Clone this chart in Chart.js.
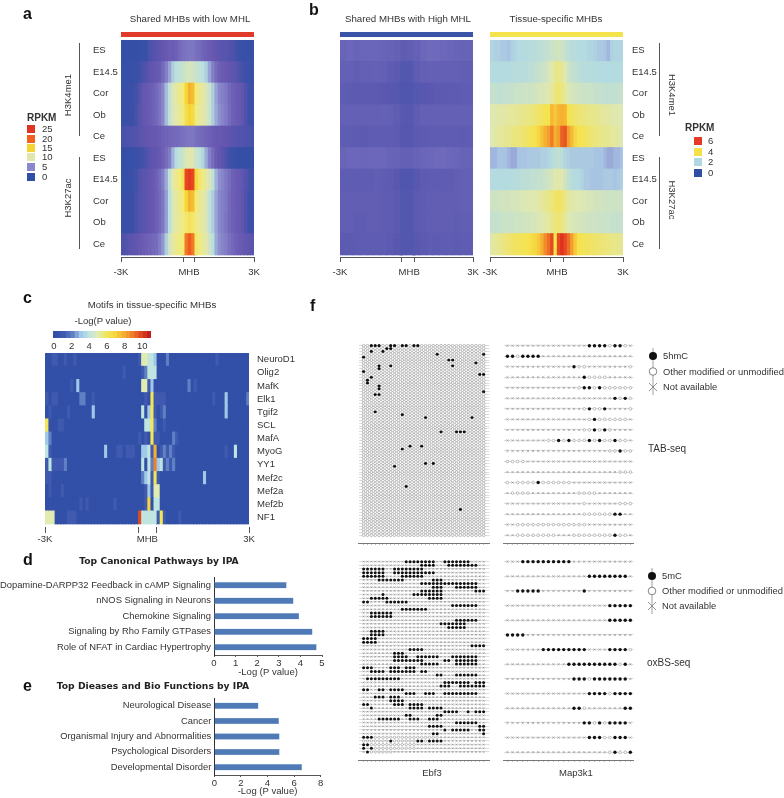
<!DOCTYPE html>
<html>
<head>
<meta charset="utf-8">
<title>MHB figure</title>
<script src="https://cdn.jsdelivr.net/npm/chart.js@4"></script>
<style>
html,body{margin:0;padding:0;background:#fff;width:784px;height:798px;overflow:hidden}
#page{position:relative;width:784px;height:798px;overflow:hidden;font-family:"Liberation Sans",Arial,sans-serif;color:#333;filter:blur(.3px)}
#page canvas{position:absolute}
.t{position:absolute;white-space:nowrap;line-height:1;font-size:9.5px}
.s{position:absolute}
</style>
</head>
<body>
<div id="page"></div>
<script>
/* ---------- categories ---------- */
const histoneRows = ['ES','E14.5','Cor','Ob','Ce','ES','E14.5','Cor','Ob','Ce'];
const motifNames = ['NeuroD1','Olig2','MafK','Elk1','Tgif2','SCL','MafA','MyoG','YY1','Mef2c','Mef2a','Mef2b','NF1'];
const pathwayNames = ['Dopamine-DARPP32 Feedback in cAMP Signaling','nNOS Signaling in Neurons','Chemokine Signaling','Signaling by Rho Family GTPases','Role of NFAT in Cardiac Hypertrophy'];
const pathwayValues = [3.35,3.67,3.93,4.55,4.74];
const diseaseNames = ['Neurological Disease','Cancer','Organismal Injury and Abnormalities','Psychological Disorders','Developmental Disorder'];
const diseaseValues = [3.3,4.84,4.89,4.89,6.57];
const rpkmLowLegend = [[25,'#e03525'],[20,'#f0601f'],[15,'#f5d335'],[10,'#e0e6ac'],[5,'#8a88cc'],[0,'#2f4fa6']];
const rpkmTissueLegend = [[6,'#e53a25'],[4,'#f5e04a'],[2,'#b0d8e0'],[0,'#2f4fa6']];

/* ---------- colour ramps ---------- */
const lowRamp = [[0,'#2f4fa6'],[1,'#3e50a8'],[2.5,'#6656b0'],[5,'#8a88cc'],[7.5,'#b8dfe2'],[10,'#e2e8ac'],[12.5,'#f3ea78'],[15,'#f6d636'],[20,'#f0601f'],[25,'#e03020']];
const tissueRamp = [[0,'#2f4fa6'],[0.6,'#5a58b0'],[1,'#7e76c4'],[1.6,'#a8c4e2'],[2,'#b4dbe0'],[3,'#dfe8b0'],[4,'#f6e24a'],[4.8,'#f5b030'],[5.4,'#ef7a28'],[6,'#e03020']];
const motifRamp = [[0,'#3350a8'],[1,'#3f5aae'],[2,'#5f80c2'],[3,'#a0c8e8'],[4,'#c0e5e0'],[5,'#e0ecb0'],[6,'#f2e658'],[7,'#f5d63c'],[8,'#f5b030'],[9,'#f08028'],[10,'#e04a20'],[11,'#c02020']];

/* ---------- a: Shared MHBs with low MHL ---------- */
const lowMe1ES   = [0.4,0.4,0.4,0.4,0.5,0.6,0.6,0.7,1.5,1.8,2,2.2,2.4,2.6,2.8,2.8,3,3.5,3.8,4,4.2,4.2,3.8,3.6,3.2,3,2.8,2.6,2.4,2.2,2,2,1.8,1.6,1.2,0.8,0.6,0.6,0.5,0.5];
const lowMe1E145 = [0.5,0.5,0.5,0.6,0.8,1,1.5,1.8,2.2,2.4,2.6,2.8,3.5,4.5,5.8,7,7.8,8,8.4,9,9.2,9,8.4,8,7.6,7,5.8,4.6,3.6,3,2.8,2.6,2.4,2.2,2,1.6,1.2,1,0.8,0.6];
const lowMe1Cor  = [0.6,0.6,0.7,0.8,1.2,1.8,2.4,2.6,2.8,3,3.4,4,5,6.5,8,9.5,10.5,11.5,12.5,15,16.5,16,12.5,11.5,10.5,9.5,8.5,7,5.8,5,4.6,4.2,3.5,3,2.8,2.6,2.2,1.6,1,0.8];
const lowMe1Ob   = [0.6,0.6,0.7,0.9,1.4,2,2.4,2.6,2.8,3,3.4,4,5,6.5,8,9.5,10,11,12,14,15,14.5,12,11,10.2,9.5,8.5,7,6,5.2,4.8,4.3,3.6,3,2.8,2.6,2.2,1.6,1,0.8];
const lowMe1Ce   = [1.4,1.5,1.6,1.7,1.8,2,2.2,2.4,2.5,2.6,2.6,2.8,3,3.2,3.3,3.4,3.5,3.6,3.8,4,4.2,4.2,3.8,3.6,3.4,3.2,3,2.8,2.6,2.6,2.5,2.4,2.2,2,1.9,1.8,1.7,1.6,1.5,1.4];
const lowAcES    = [0.4,0.4,0.5,0.6,0.8,1,1.2,1.6,2,2.2,2.4,2.6,3,3.6,4.4,6.2,7.4,8,8.6,9.6,10,9.6,8.6,8,7.2,6,4.6,3.6,2.8,2.4,2,1.6,1,0.8,0.5,0.4,0.4,0.4,0.4,0.4];
const lowAcE145  = [0.5,0.5,0.6,0.8,1.2,1.8,2,2.2,2.4,2.6,3,3.6,4.6,6,8,10,11.5,12.5,13.5,22.5,24,22.5,14.5,13,12,10.5,9.5,8,6.2,5.2,4.8,4.2,3.6,3,2.8,2.6,2.2,1.8,1.2,0.8];
const lowAcCor   = [0.6,0.6,0.7,0.9,1.4,1.8,2,2.2,2.4,2.6,3,3.4,4.2,5.6,7.5,9.5,10.5,11.5,12.5,15,16.5,16,12.5,11.5,10.5,9.5,8,7,5.8,5,4.6,4.2,3.4,3,2.8,2.6,2.2,1.6,1,0.8];
const lowAcOb    = [0.6,0.6,0.7,0.9,1.4,1.8,2,2.2,2.4,2.6,3,3.4,4.2,5.6,7.5,9.5,10.5,11,12,13,13.5,13,12,11,10.5,9.5,8,7,5.8,5,4.6,4,3.4,3,2.8,2.6,2.2,1.6,1,0.8];
const lowAcCe    = [1.6,1.8,2,2.2,2.4,2.6,2.8,3,3.2,3.4,3.6,4.4,5.4,7,9,10.5,11.5,12,12.5,19,20.5,19,13,12,11,10,9,7.5,6,5.2,4.8,4.4,3.8,3.4,3,2.8,2.6,2.4,2.2,2];
const lowMhbEdge = [0.8,0.8,1,1,0.8,2.5,5,5,5,5];
const lowTicks = [[-3000,'-3K'],[-203,''],[68,'MHB'],[338,''],[3000,'3K']];

/* ---------- b: Shared MHBs with High MHL ---------- */
const highMe1ES   = [.76,.8,.76,.78,.78,.78,.76,.74,.72,.66,.68,.72,.8,.84,.82,.8,.78,.76,.74,.74];
const highMe1E145 = [.7,.7,.68,.7,.7,.72,.7,.66,.62,.5,.52,.66,.7,.72,.7,.7,.7,.7,.68,.68];
const highMe1Cor  = [.66,.64,.62,.62,.62,.62,.6,.58,.54,.46,.46,.54,.58,.6,.62,.62,.64,.64,.66,.66];
const highMe1Ob   = [.7,.7,.7,.7,.7,.7,.72,.7,.66,.58,.58,.66,.7,.7,.7,.7,.7,.7,.7,.7];
const highMe1Ce   = [.66,.66,.64,.62,.66,.66,.66,.66,.64,.56,.56,.62,.64,.66,.66,.66,.66,.66,.64,.66];
const highAcES    = [.76,.8,.8,.78,.8,.8,.8,.76,.74,.7,.7,.74,.78,.8,.82,.84,.8,.78,.74,.74];
const highAcE145  = [.66,.66,.66,.66,.66,.68,.66,.64,.58,.46,.46,.58,.64,.66,.66,.66,.66,.68,.7,.7];
const highAcCor   = [.68,.68,.68,.68,.68,.68,.66,.66,.62,.5,.52,.62,.66,.68,.68,.68,.68,.68,.7,.7];
const highAcOb    = [.68,.68,.66,.66,.68,.68,.66,.66,.62,.5,.52,.62,.66,.68,.68,.68,.68,.66,.68,.68];
const highAcCe    = [.62,.62,.64,.66,.66,.66,.66,.62,.58,.5,.5,.58,.62,.66,.64,.66,.66,.64,.66,.66];
const highMhbEdge = [.58,.5,.48,.6,.6,.72,.46,.52,.52,.5];
const highTicks = [[-3000,'-3K'],[-215,''],[120,'MHB'],[350,''],[3000,'3K']];

/* ---------- b: Tissue-specific MHBs ---------- */
const tisMe1ES   = [1.9,1.8,1.8,1.7,1.7,1.6,1.8,1.9,2,2,2,2.1,2.1,2.1,2.2,2.2,2.3,2.4,2.5,2.6,2.7,2.6,2.4,2.2,2.1,2.1,2,2,2,1.9,1.9,1.8,1.7,1.7,1.6,1.5,1.8,1.9,1.9,1.9];
const tisMe1E145 = [2,2,2,2,2,2,2.1,2.1,2.1,2.1,2.1,2.2,2.2,2.3,2.4,2.5,2.6,2.8,3,3.3,3.4,3.3,3,2.6,2.4,2.3,2.2,2.1,2.1,2.1,2.1,2,2,2,2,2,2,2,2,2];
const tisMe1Cor  = [2.4,2.4,2.3,2.3,2.4,2.4,2.4,2.5,2.5,2.5,2.6,2.6,2.6,2.7,2.8,2.8,2.9,3,3.2,3.5,3.6,3.5,3.2,2.9,2.8,2.7,2.6,2.6,2.5,2.5,2.5,2.4,2.4,2.4,2.3,2.3,2.3,2.3,2.4,2.4];
const tisMe1Ob   = [3,3,3.1,3.1,3.1,3.2,3.2,3.2,3.3,3.3,3.4,3.4,3.5,3.6,3.7,3.8,3.9,4,4.7,4.4,4.7,4.8,4.7,4,3.8,3.7,3.6,3.5,3.5,3.4,3.4,3.3,3.3,3.2,3.2,3.1,3.1,3,3,3];
const tisMe1Ce   = [3,3.1,3.2,3.2,3.3,3.3,3.4,3.5,3.5,3.6,3.7,3.8,3.9,4,4.2,4.5,4.8,5,5.4,4.8,5,5.6,5.7,5,4.6,4.2,4,3.9,3.8,3.7,3.6,3.5,3.4,3.4,3.3,3.3,3.2,3.2,3.1,3];
const tisAcES    = [1.5,1.5,1.6,1.6,1.6,1.5,1.4,1.4,1.6,1.6,1.6,1.7,1.7,1.7,1.7,1.8,1.8,1.9,2,2.2,2.3,2.2,1.9,1.8,1.7,1.7,1.7,1.7,1.7,1.7,1.7,1.6,1.6,1.6,1.5,1.4,1.4,1.5,1.5,1.6];
const tisAcE145  = [2,2,2,2,2,2,2.1,2.1,2.1,2.2,2.2,2.2,2.3,2.3,2.4,2.4,2.5,2.7,2.8,3,3.1,3,2.7,2.3,2.1,2,2,1.9,1.7,1.7,1.6,1.6,1.6,1.6,1.7,1.7,1.7,1.6,1.7,1.8];
const tisAcCor   = [2.6,2.6,2.6,2.7,2.7,2.7,2.8,2.8,2.8,2.9,2.9,3,3,3,3.1,3.2,3.3,3.4,3.5,3.7,3.8,3.7,3.4,3.2,3.1,3,3,2.9,2.9,2.8,2.8,2.7,2.7,2.7,2.6,2.6,2.6,2.6,2.6,2.6];
const tisAcOb    = [2.4,2.4,2.4,2.5,2.5,2.5,2.5,2.6,2.6,2.6,2.7,2.7,2.8,2.8,2.9,3,3.1,3.2,3.3,3.5,3.6,3.5,3.2,3,2.9,2.8,2.8,2.7,2.7,2.6,2.6,2.6,2.5,2.5,2.5,2.5,2.4,2.4,2.4,2.4];
const tisAcCe    = [3.1,3.2,3.3,3.4,3.5,3.6,3.7,3.8,3.8,3.9,3.9,4,4.1,4.2,4.4,4.8,5.2,5.5,5.8,4,5.8,6,5.8,5.5,5,4.4,4,3.9,3.8,3.8,3.7,3.7,3.6,3.6,3.5,3.5,3.4,3.4,3.3,3.3];
const tisMhbEdge = [1.1,1.1,1.2,3.2,3.3,1,1.1,1.4,1.4,3.4];
const tisTicks = [[-3000,'-3K'],[-275,''],[20,'MHB'],[300,''],[3000,'3K']];

/* ---------- c: motifs ---------- */
const mNeuroD1 = [0,0,1,1,0,0,1,0,0,1, 0,0,0,0,0,0,0,0,0,0, 0,0,0,0,0,0,0,0,0,0, 1,5,5,4,4,3,0,0,0,2, 0,0,0,0,0,0,0,0,0,0, 0,0,0,0,0,1,0,0,0,0, 0,0,0,0,0,0];
const mOlig2   = [0,0,0,0,0,0,0,0,0,0, 0,0,0,0,0,0,0,0,0,0, 0,0,0,0,0,1,0,0,0,0, 0,1,2,4,4,4,0,0,0,0, 0,0,0,0,0,0,0,0,0,0, 0,0,0,0,0,0,0,0,0,0, 0,0,0,0,0,0];
const mMafK    = [0,0,0,0,0,0,0,0,1,0, 3,0,0,0,0,0,0,0,0,0, 0,0,0,0,0,0,0,0,0,0, 0,5,5,1,3,0,0,0,0,0, 0,0,0,0,0,0,2,0,1,0, 0,0,0,0,0,0,0,0,0,0, 0,0,0,0,0,0];
const mElk1    = [1,0,1,1,0,0,0,0,0,0, 0,2,2,0,0,1,0,0,0,0, 0,0,0,0,0,0,0,0,0,0, 0,0,1,0,6,1,1,1,1,0, 0,0,0,0,0,0,0,0,0,0, 0,0,0,0,1,0,0,0,3,0, 0,0,0,0,0,2];
const mTgif2   = [0,1,0,0,0,0,0,1,0,0, 0,0,0,0,0,3,0,0,0,0, 0,0,0,0,0,0,0,0,0,0, 0,4,0,3,6,1,0,1,2,0, 0,0,0,0,0,0,0,0,0,0, 0,0,0,0,0,0,0,0,3,0, 0,0,0,0,0,0];
const mSCL     = [6,0,0,0,1,1,0,0,0,0, 0,0,0,0,0,0,0,0,0,0, 0,0,0,0,0,0,0,0,0,0, 0,0,4,4,6,2,0,0,1,0, 0,0,0,0,0,0,0,0,0,0, 0,0,0,0,0,0,0,0,0,0, 0,0,0,0,0,0];
const mMafA    = [3,2,0,0,0,0,0,0,0,0, 0,0,0,0,0,0,0,0,0,0, 0,0,0,0,0,0,0,0,0,0, 1,0,1,0,6,1,1,0,0,0, 0,2,1,0,0,0,0,0,0,0, 0,0,0,0,0,0,0,0,0,0, 0,0,0,0,0,0];
const mMyoG    = [4,1,0,0,0,0,0,0,0,0, 0,0,0,0,0,0,0,0,0,3, 0,0,0,1,1,0,1,1,1,0, 0,3,3,4,1,8,0,1,2,1, 2,1,0,0,0,0,0,0,0,0, 0,0,0,0,0,0,0,0,1,0, 0,4,0,0,0,0];
const mYY1     = [1,4,1,1,1,1,2,0,0,0, 0,0,0,0,0,0,0,0,0,0, 0,0,0,0,0,0,0,0,0,0, 0,4,0,4,2,9,3,4,1,2, 1,2,0,0,0,0,0,0,0,0, 0,0,0,0,0,0,0,0,0,0, 0,0,0,0,0,0];
const mMef2c   = [1,1,0,0,0,0,0,0,0,0, 0,0,0,0,0,0,0,0,0,0, 0,0,0,0,0,0,0,0,0,0, 0,2,3,4,1,6,1,0,0,0, 0,0,0,0,0,0,0,0,0,0, 0,3,0,0,0,0,0,0,0,0, 0,0,0,0,0,0];
const mMef2a   = [0,1,0,0,0,1,0,0,0,0, 0,0,0,0,0,0,0,0,0,0, 0,0,0,0,0,0,0,0,0,0, 0,0,1,3,1,5,5,0,0,0, 0,0,0,0,0,0,0,0,0,0, 0,0,0,0,0,0,0,0,0,0, 0,0,0,0,0,0];
const mMef2b   = [0,0,0,0,0,0,0,0,0,0, 0,1,0,1,0,0,0,0,0,0, 0,0,1,0,0,0,0,0,0,0, 0,0,1,7,0,4,4,0,0,0, 0,0,0,0,0,0,0,0,0,0, 0,0,0,0,0,0,0,0,0,0, 0,0,0,0,0,0];
const mNF1     = [5,5,5,0,0,0,0,1,1,1, 0,0,0,0,0,0,0,0,0,0, 0,0,0,0,0,0,0,0,0,0, 10,4,4,4,4,4,1,6,1,0, 0,0,0,1,0,0,0,0,0,0, 0,0,0,0,0,0,0,0,0,0, 0,0,0,0,0,0];
const motifTicks = [[-3000,'-3K'],[-256,''],[10,'MHB'],[265,''],[3000,'3K']];
const colorbarSteps = [0,0.5,1,1.5,2,2.5,3,3.5,4,4.5,5,5.5,6,6.5,7,7.5,8,8.5,9,9.5,10,10.5,11];
const colorbarTicks = [0,2,4,6,8,10];

/* ---------- f: Ebf3 reads, [row,[columns]] ---------- */
const ebf3Tab5hmC = [[0,[2,3,4,7,8,10,11,13,14]],[1,[6,7]],[2,[2,5]],[3,[19,31]],[4,[0]],[5,[22,23]],[6,[29]],[7,[4,7,23]],[8,[4]],[9,[0]],[10,[30,31]],[11,[2]],[12,[1]],[13,[1]],[14,[4]],[15,[4]],[16,[31]],[17,[3,4]],[23,[3]],[24,[10]],[25,[16,28]],[30,[20,24,25,26]],[35,[12,15]],[36,[10]],[41,[16,18]],[42,[8]],[49,[11]],[57,[25]]];
const ebf3TabRows = 67;
/* black runs per row: [first,last] */
const ebf3Ox5mC = [
[[11,18],[21,27]],[[15,18],[22,29]],[[0,5],[8,15]],[[0,5],[8,15],[16,18]],[[0,5],[10,15]],[[4,10],[18,20]],[[15,20],[21,29]],[[18,20],[24,29]],
[[15,20],[29,31]],[[5,5],[13,20]],[[2,6],[17,20]],[[0,1],[6,11]],[[23,29]],[[10,16]],[[2,7]],[[2,7]],[[24,29]],[[20,26]],[[22,26]],[[2,5]],[[2,5]],[[0,3]],[[0,3]],
[[28,31]],[[12,15]],[[8,10]],[[8,11],[14,19],[23,29]],[[8,15],[21,22],[24,29]],[[15,19],[24,29]],[[0,2],[7,9],[11,13]],[[2,5],[7,13],[15,16]],[[19,20],[24,29]],[[1,9]],
[[21,22],[23,27],[29,31]],[[20,22],[25,27],[28,31]],[[0,1],[4,5],[7,10]],[[11,13],[16,18],[21,29]],[[3,5],[7,9]],[[7,10]],[[0,1],[8,10],[12,15]],[[2,2],[12,15],[17,20]],
[[21,24],[27,27],[29,31]],[[11,12],[19,20]],[[4,9],[12,14],[17,19]],[[24,29]],[[17,20],[30,31]],[[21,21],[23,27],[30,31]],[[18,19],[31,31]],[[0,2]],[[7,7],[14,15],[17,20]],[[0,1]],[[0,0],[2,2]],[[1,1]]];
const ebf3OxOpenRuns = [[48,3,19],[49,0,19],[50,1,13],[51,3,13],[52,2,7]];
/* Map3k1: # modified, o other, x not available */
const map3k1Tab = ['xxxxxxxxxxxxxxxx####o##ox','##o####xxxxxxxxxxxxxxxxxx','xxxxxxxxxxxxx#ooxxxxxxxxo','xxxxxxxxxxxxxxx#ooooxxxxx','xxxxxxxxxxxxxxo##o#oooooo','xxxxxxxxxxxxxxxxxxxxx#o#o','xxxxxxxxxxxxxxxo#oo#xxxxo','xxxxxxxxxxxxxxxxo#oooooox','xxxxxxxxxxxxxxxoo#o#oxxxx','xxxxxxxxoo#o#ooo#o#oo#oox','xxxxxxxxxxxxxxxxxxxxoo#oo','ooooxxxxxxxxxxxxxxxxxxxxx','xxxxxxxxxxxxxxxxxxxxxxooo','oxoooo#ooooooxxxxxxxxxxxx','xooooxxxxxxxxxooooxxxxxxx','xxxxxxxxxxxxxxxoxxxxxxooo','xxxxxxxxxxxxxxxoooooo##xx','xxooooooooooooooxxxxxxxxx','xxooooooooxxxoooooooo#oox'];
const map3k1Ox = ['xxx##########xxxxxxxxxxxx','xxxxxxxxxxxxxxxx########x','xx#####xxxxxxxx#xxxxxxxxx','xxxxxxxxxxxxxxxxxxxx#####','xxxxxxxxxxxxxxxxxxxx#####','####xxxxxxxxxxxxxxxxxxxxx','xxxxxxx#########xxxx####o','xxxxxxxxxxxx##########o#x','xxxxxxxxxxxxx###o#######x','xxxxxxxxxxxxxxxx####o####','xxxxxxxxxxxxx##oxxxxxxx##','xxxxxxxxxxxxxxx##o#o####x','xxxxxxxxxxxxxxxx###oo###x','xxxxxxxxxxxxxxxxxxxxo#oo#'];

/* ---------- helpers ---------- */
const page = document.getElementById('page');
const FONT = '"Liberation Sans", Arial, sans-serif';
Chart.defaults.font.family = FONT;
Chart.defaults.font.size = 9.5;
Chart.defaults.color = '#333';
Chart.defaults.animation = false;
const hex = h => [1,3,5].map(i => parseInt(h.slice(i,i+2),16));
function rampColor(ramp, v){
  if (v <= ramp[0][0]) return ramp[0][1];
  for (let i = 1; i < ramp.length; i++){
    if (v <= ramp[i][0]){
      const f = (v-ramp[i-1][0])/(ramp[i][0]-ramp[i-1][0]);
      const a = hex(ramp[i-1][1]), b = hex(ramp[i][1]);
      return `rgb(${a.map((c,k)=>Math.round(c+(b[k]-c)*f)).join(',')})`;
    }
  }
  return ramp[ramp.length-1][1];
}
function text(str,x,y,o={}){
  const d = document.createElement('div');
  d.className = 't';
  d.textContent = str;
  d.style.left = x+'px'; d.style.top = y+'px';
  const ax = o.anchor==='center' ? '-50%' : o.anchor==='end' ? '-100%' : '0';
  d.style.transform = `translate(${ax},-50%)` + (o.rot ? ` rotate(${o.rot}deg)` : '');
  if (o.rot) d.style.transformOrigin = '50% 50%';
  if (o.size) d.style.fontSize = o.size+'px';
  if (o.bold) d.style.fontWeight = 'bold';
  if (o.color) d.style.color = o.color;
  if (o.family) d.style.fontFamily = o.family;
  page.appendChild(d);
}
function rect(x,y,w,h,c){
  const d = document.createElement('div');
  d.className = 's';
  d.style.cssText = `left:${x}px;top:${y}px;width:${w}px;height:${h}px;background:${c}`;
  page.appendChild(d);
}
/* canvas framing so that the chart area lands on the given plot box */
function frame(plot, o){
  const yl = o.yLeft||0, yr = o.yRight||0, xH = o.xH||0;
  const L = Math.floor(plot.l - yl - (o.padL==null?14:o.padL));
  const R = Math.ceil(plot.r + yr + (o.padR==null?14:o.padR));
  const T = Math.floor(plot.t - 8);
  const B = Math.ceil(plot.b + xH + 2);
  const c = document.createElement('canvas');
  c.width = R-L; c.height = B-T;
  c.style.left = L+'px'; c.style.top = T+'px';
  c.style.width = (R-L)+'px'; c.style.height = (B-T)+'px';
  page.appendChild(c);
  return {canvas:c,top:T,layout:{padding:{left:plot.l-yl-L,right:R-plot.r-yr,top:plot.t-T,bottom:B-plot.b-xH}}};
}
function tickAxis(ticks, o){
  const isMhb = v => { const t = ticks.find(k=>k[0]===v); return t && t[1]==='MHB'; };
  return {
    type:'linear',min:-3000,max:3000,
    afterBuildTicks:s=>{s.ticks=ticks.map(t=>({value:t[0]}));},
    afterFit:s=>{s.height=o.xH;s.paddingLeft=0;s.paddingRight=0;},
    ticks:{autoSkip:false,maxRotation:0,minRotation:0,padding:o.pad,color:'#333',font:{size:9.5},
      callback:v=>{const t=ticks.find(k=>k[0]===v);return t?t[1]:'';}},
    grid:{drawOnChartArea:false,drawTicks:true,tickLength:o.len,tickWidth:1,
      tickColor:c=>(c.tick && isMhb(c.tick.value))?'rgba(0,0,0,0)':'#555'},
    border:{display:o.line,color:'#555',width:1}
  };
}
/* the reference heat maps are slightly smoothed: re-draw the drawn rows through a soft filter */
const softenRows = {id:'softenRows',afterDatasetsDraw(chart,args,opts){
  const a = chart.chartArea, h = opts.rowsEnd - a.top;
  const ctx = chart.ctx;
  ctx.save();
  ctx.beginPath(); ctx.rect(a.left,a.top,a.width,h); ctx.clip();
  ctx.filter = `blur(${opts.radius}px)`;
  ctx.drawImage(chart.canvas,a.left,a.top,a.width,h,a.left,a.top,a.width,h);
  ctx.restore();
}};
/* heat map: rows of values drawn as floating horizontal bars */
function heatmap(o){
  const n = o.rows.length, cols = o.rows[0].length;
  const rowH = (o.rowsEnd - o.plot.t)/n;
  const maxY = (o.plot.b - o.plot.t)/rowH;
  const f = frame(o.plot,{yLeft:o.side==='left'?o.labelW:0,yRight:o.side==='right'?o.labelW:0,xH:o.xH,
    padL:o.side==='left'?4:14,padR:o.side==='right'?2:14});
  const datasets = [];
  for (let c=0;c<cols;c++){
    const lo = -3000+6000*c/cols, hi = -3000+6000*(c+1)/cols;
    datasets.push({
      data:o.rows.map((r,i)=>({x:[lo,hi],y:i+0.5})),
      backgroundColor:o.rows.map(r=>rampColor(o.ramp,r[c]))});
  }
  (o.edges||[]).forEach(edge=>{
    datasets.push({
      data:o.rows.map((r,i)=>({x:[edge-55,edge+55],y:i+0.5})),
      backgroundColor:o.edgeValues.map(v=>rampColor(o.ramp,v))});
  });
  new Chart(f.canvas,{type:'bar',data:{datasets},plugins:[softenRows],options:{
    indexAxis:'y',responsive:false,animation:false,layout:f.layout,
    datasets:{bar:{grouped:false,barThickness:rowH,borderWidth:0}},
    plugins:{legend:{display:false},tooltip:{enabled:false},softenRows:{rowsEnd:o.rowsEnd-f.top,radius:o.soft}},
    scales:{
      x:tickAxis(o.ticks,{xH:o.xH,pad:o.tickPad,len:o.tickLen,line:o.axisLine}),
      y:{type:'linear',reverse:true,min:0,max:maxY,offset:false,display:!!o.side,position:o.side||'left',
        afterBuildTicks:s=>{s.ticks=o.labels.map((l,i)=>({value:i+0.5}));},
        afterFit:s=>{s.width=o.labelW;s.paddingTop=0;s.paddingBottom=0;},
        grid:{display:false,offset:false,drawTicks:false},border:{display:false},
        ticks:{autoSkip:false,padding:o.side==='right'?(o.labelPad||0):0,crossAlign:o.side==='left'?'far':'near',color:'#333',font:{size:9.5},
          callback:v=>o.labels[Math.round(v-0.5)]||''}}
    }}});
}
function hbar(o){
  const f = frame(o.plot,{yLeft:o.yW,xH:o.xH,padL:0,padR:8});
  new Chart(f.canvas,{type:'bar',data:{labels:o.names,datasets:[{data:o.values,backgroundColor:'#4f7ab5',borderColor:'#a9c4e2',borderWidth:.5,barThickness:5.8}]},options:{
    indexAxis:'y',responsive:false,animation:false,layout:f.layout,
    plugins:{legend:{display:false},tooltip:{enabled:false}},
    scales:{
      x:{type:'linear',min:0,max:o.max,afterBuildTicks:s=>{s.ticks=o.ticks.map(v=>({value:v}));},
        afterFit:s=>{s.height=o.xH;s.paddingLeft=0;s.paddingRight=0;},
        title:{display:true,text:'-Log (P value)',color:'#333',font:{size:9.5},padding:{top:0,bottom:0}},
        grid:{drawOnChartArea:false,tickLength:2,tickColor:'#555'},border:{color:'#555'},
        ticks:{autoSkip:false,maxRotation:0,padding:1,color:'#333',font:{size:9.5}}},
      y:{afterFit:s=>{s.width=o.yW;s.paddingTop=0;s.paddingBottom=0;},grid:{display:false,drawTicks:false},border:{color:'#333',width:1},
        ticks:{autoSkip:false,padding:3,color:'#333',font:{size:9.4}}}
    }}});
}
/* bisulfite read matrix */
function dots(o){
  const f = frame(o.plot,{xH:4,padL:2,padR:2});
  const solid=[],open=[],na=[];
  o.rows.forEach((s,r)=>{[...s].forEach((ch,c)=>{
    (ch==='#'?solid:ch==='o'?open:na).push({x:c,y:r});});});
  const rowTicks = o.rows.map((s,i)=>({value:i}));
  const colTicks = [...o.rows[0]].map((s,i)=>({value:i}));
  const r = o.r;
  new Chart(f.canvas,{type:'scatter',data:{datasets:[
    {data:na,pointStyle:'crossRot',pointRadius:r.x,borderColor:'#8a8a8a',borderWidth:.6,backgroundColor:'transparent'},
    {data:open,pointStyle:'circle',pointRadius:r.o,borderColor:'#8c8c8c',borderWidth:.55,backgroundColor:'#fff'},
    {data:solid,pointStyle:'circle',pointRadius:r.s,borderColor:'#111',borderWidth:0,backgroundColor:'#111'}
  ]},options:{
    responsive:false,animation:false,layout:f.layout,
    plugins:{legend:{display:false},tooltip:{enabled:false}},
    scales:{
      x:{type:'linear',min:o.xMin,max:o.xMax,afterBuildTicks:s=>{s.ticks=colTicks.map(t=>({value:t.value}));},
        afterFit:s=>{s.height=4;s.paddingLeft=0;s.paddingRight=0;},
        grid:{drawOnChartArea:false,tickLength:2,tickColor:'#999',tickWidth:.6},
        border:{color:'#777',width:1},ticks:{display:false,autoSkip:false}},
      y:{type:'linear',reverse:true,min:o.yMin,max:o.yMax,
        afterBuildTicks:s=>{s.ticks=rowTicks.map(t=>({value:t.value}));},
        afterFit:s=>{s.width=0;s.paddingTop=0;s.paddingBottom=0;},
        grid:{color:'#cfcfcf',lineWidth:.7,drawTicks:false},border:{display:false},ticks:{display:false,autoSkip:false}}
    }}});
}
function expandEbf3Tab(){
  const rows = Array.from({length:ebf3TabRows},()=>Array(32).fill('o'));
  ebf3Tab5hmC.forEach(([r,cols])=>cols.forEach(c=>{rows[r][c]='#';}));
  return rows.map(r=>r.join(''));
}
function expandEbf3Ox(){
  const rows = ebf3Ox5mC.map(()=>Array(32).fill('x'));
  ebf3OxOpenRuns.forEach(([r,a,b])=>{for(let c=a;c<=b;c++)rows[r][c]='o';});
  ebf3Ox5mC.forEach((runs,r)=>runs.forEach(([a,b])=>{for(let c=a;c<=b;c++)rows[r][c]='#';}));
  return rows.map(r=>r.join(''));
}
function legendStack(x,y0,step,label){
  const ns='http://www.w3.org/2000/svg';
  const svg=document.createElementNS(ns,'svg');
  svg.setAttribute('width',20);svg.setAttribute('height',step*2+24);
  svg.style.cssText=`position:absolute;left:${x-10}px;top:${y0-12}px`;
  const cy=i=>12+step*i;
  const add=(n,a)=>{const e=document.createElementNS(ns,n);for(const k in a)e.setAttribute(k,a[k]);svg.appendChild(e);};
  add('line',{x1:10,x2:10,y1:4,y2:cy(2)+8,stroke:'#888','stroke-width':.8});
  add('circle',{cx:10,cy:cy(0),r:4,fill:'#111'});
  add('circle',{cx:10,cy:cy(1),r:3.8,fill:'#fff',stroke:'#666','stroke-width':.8});
  add('line',{x1:6,x2:14,y1:cy(2)-4,y2:cy(2)+4,stroke:'#777','stroke-width':.8});
  add('line',{x1:6,x2:14,y1:cy(2)+4,y2:cy(2)-4,stroke:'#777','stroke-width':.8});
  page.appendChild(svg);
  text(label,x+10,y0,{size:9.4});
  text('Other modified or unmodified',x+10,y0+step,{size:9.4});
  text('Not available',x+10,y0+step*2,{size:9.4});
}

/* ---------- panel a ---------- */
text('a',23,14,{size:16,bold:true,color:'#111'});
text('Shared MHBs with low MHL',190,19,{anchor:'center',size:9.7});
rect(121,32,133,4.5,'#e03a2a');
heatmap({plot:{l:121,r:254,t:40,b:257},rowsEnd:255,
  rows:[lowMe1ES,lowMe1E145,lowMe1Cor,lowMe1Ob,lowMe1Ce,lowAcES,lowAcE145,lowAcCor,lowAcOb,lowAcCe],
  ramp:lowRamp,labels:histoneRows,side:'left',labelW:28,xH:22,tickLen:5,tickPad:5,axisLine:true,soft:.6,
  ticks:lowTicks,edges:[-203,338],edgeValues:lowMhbEdge});
rect(79,43,1,93,'#555'); rect(79,157,1,92,'#555');
text('H3K4me1',68,95,{anchor:'center',rot:-90});
text('H3K27ac',68,198,{anchor:'center',rot:-90});
text('RPKM',27,118,{bold:true,size:10});
const lowLegendY=[129,139,148,157,167,177];
rpkmLowLegend.forEach((e,i)=>{rect(27,lowLegendY[i]-4,7.5,8,e[1]);text(String(e[0]),42,lowLegendY[i]);});

/* ---------- panel b ---------- */
text('b',309,10,{size:16,bold:true,color:'#111'});
text('Shared MHBs with High MHL',408,19,{anchor:'center',size:9.7});
text('Tissue-specific MHBs',556,19,{anchor:'center',size:9.7});
rect(340,32,133,4.5,'#3a55a8');
rect(490,32,133,4.5,'#f4e24e');
heatmap({plot:{l:340,r:473,t:40,b:257},rowsEnd:255,
  rows:[highMe1ES,highMe1E145,highMe1Cor,highMe1Ob,highMe1Ce,highAcES,highAcE145,highAcCor,highAcOb,highAcCe],
  ramp:tissueRamp,labels:histoneRows,side:null,labelW:0,xH:22,tickLen:5,tickPad:5,axisLine:true,soft:.6,
  ticks:highTicks,edges:[-215,350],edgeValues:highMhbEdge});
heatmap({plot:{l:490,r:623,t:40,b:257},rowsEnd:255,
  rows:[tisMe1ES,tisMe1E145,tisMe1Cor,tisMe1Ob,tisMe1Ce,tisAcES,tisAcE145,tisAcCor,tisAcOb,tisAcCe],
  ramp:tissueRamp,labels:histoneRows,side:'right',labelW:34,labelPad:9,xH:22,tickLen:5,tickPad:5,axisLine:true,soft:.6,
  ticks:tisTicks,edges:[-275,300],edgeValues:tisMhbEdge});
rect(659,43,1,93,'#555'); rect(659,157,1,92,'#555');
text('H3K4me1',672,95,{anchor:'center',rot:90});
text('H3K27ac',672,200,{anchor:'center',rot:90});
text('RPKM',685,128,{bold:true,size:10});
const tisLegendY=[141,152,162,173];
rpkmTissueLegend.forEach((e,i)=>{rect(694,tisLegendY[i]-4,8,8,e[1]);text(String(e[0]),708,tisLegendY[i]);});

/* ---------- panel c ---------- */
text('c',23,298,{size:16,bold:true,color:'#111'});
text('Motifs in tissue-specific MHBs',152,305,{anchor:'center',size:9.7});
heatmap({plot:{l:45,r:249,t:353,b:527},rowsEnd:524,
  rows:[mNeuroD1,mOlig2,mMafK,mElk1,mTgif2,mSCL,mMafA,mMyoG,mYY1,mMef2c,mMef2a,mMef2b,mNF1],
  ramp:motifRamp,labels:motifNames,side:'right',labelW:50,labelPad:8,xH:20,tickLen:6,tickPad:1,axisLine:false,soft:.5,
  ticks:motifTicks});
text('-Log(P value)',103,321,{anchor:'center'});
(function(){
  const plot={l:53,r:151,t:331,b:338};
  const f=frame(plot,{xH:14,padL:8,padR:8});
  const w=(11.11)/colorbarSteps.length;
  new Chart(f.canvas,{type:'bar',data:{datasets:colorbarSteps.map((v,i)=>({
      data:[{x:[-0.11+w*i,-0.11+w*(i+1)],y:0.5}],backgroundColor:rampColor(motifRamp,v)}))},
    options:{indexAxis:'y',responsive:false,animation:false,layout:f.layout,
      datasets:{bar:{grouped:false,barThickness:7,borderWidth:0}},
      plugins:{legend:{display:false},tooltip:{enabled:false}},
      scales:{
        x:{type:'linear',min:-0.11,max:11,afterBuildTicks:s=>{s.ticks=colorbarTicks.map(v=>({value:v}));},
          afterFit:s=>{s.height=14;s.paddingLeft=0;s.paddingRight=0;},grid:{display:false,drawTicks:false},border:{display:false},
          ticks:{autoSkip:false,maxRotation:0,padding:3,color:'#333',font:{size:9.5}}},
        y:{type:'linear',min:0,max:1,offset:false,display:false}
      }}});
})();

/* ---------- panels d and e ---------- */
const TITLE_FONT = '"DejaVu Sans", sans-serif';
text('d',23,560,{size:16,bold:true,color:'#111'});
text('Top Canonical Pathways by IPA',159,561,{anchor:'center',bold:true,size:9.2,family:TITLE_FONT,color:'#222'});
hbar({plot:{l:214,r:322,t:577.5,b:655},yW:218,xH:23,names:pathwayNames,values:pathwayValues,max:5,ticks:[0,1,2,3,4,5]});
text('e',23,686,{size:16,bold:true,color:'#111'});
text('Top Dieases and Bio Functions by IPA',153,686,{anchor:'center',bold:true,size:9.2,family:TITLE_FONT,color:'#222'});
hbar({plot:{l:214.3,r:320.7,t:698,b:775},yW:218,xH:22,names:diseaseNames,values:diseaseValues,max:8,ticks:[0,2,4,6,8]});

/* ---------- panel f ---------- */
text('f',310,306,{size:16,bold:true,color:'#111'});
dots({plot:{l:356,r:492,t:342,b:543},rows:expandEbf3Tab(),xMin:-1.3,xMax:32.5,yMin:-1.29,yMax:68.7,r:{s:1.6,o:1.35,x:1.3}});
dots({plot:{l:501,r:636,t:342,b:543},rows:map3k1Tab,xMin:-0.75,xMax:24.6,yMin:-0.35,yMax:18.74,r:{s:1.7,o:1.35,x:1.6}});
dots({plot:{l:356,r:492,t:558,b:760},rows:expandEbf3Ox(),xMin:-1.3,xMax:32.5,yMin:-1.0,yMax:54.2,r:{s:1.5,o:1.2,x:1.3}});
dots({plot:{l:501,r:636,t:558,b:760},rows:map3k1Ox,xMin:-0.75,xMax:24.6,yMin:-0.25,yMax:13.53,r:{s:1.7,o:1.35,x:1.6}});
text('Ebf3',432,773,{anchor:'center'});
text('Map3k1',576,773,{anchor:'center'});
legendStack(653,356,15.5,'5hmC');
legendStack(652,576,15,'5mC');
text('TAB-seq',648,449,{size:10});
text('oxBS-seq',647,663,{size:10});
</script>
</body>
</html>
